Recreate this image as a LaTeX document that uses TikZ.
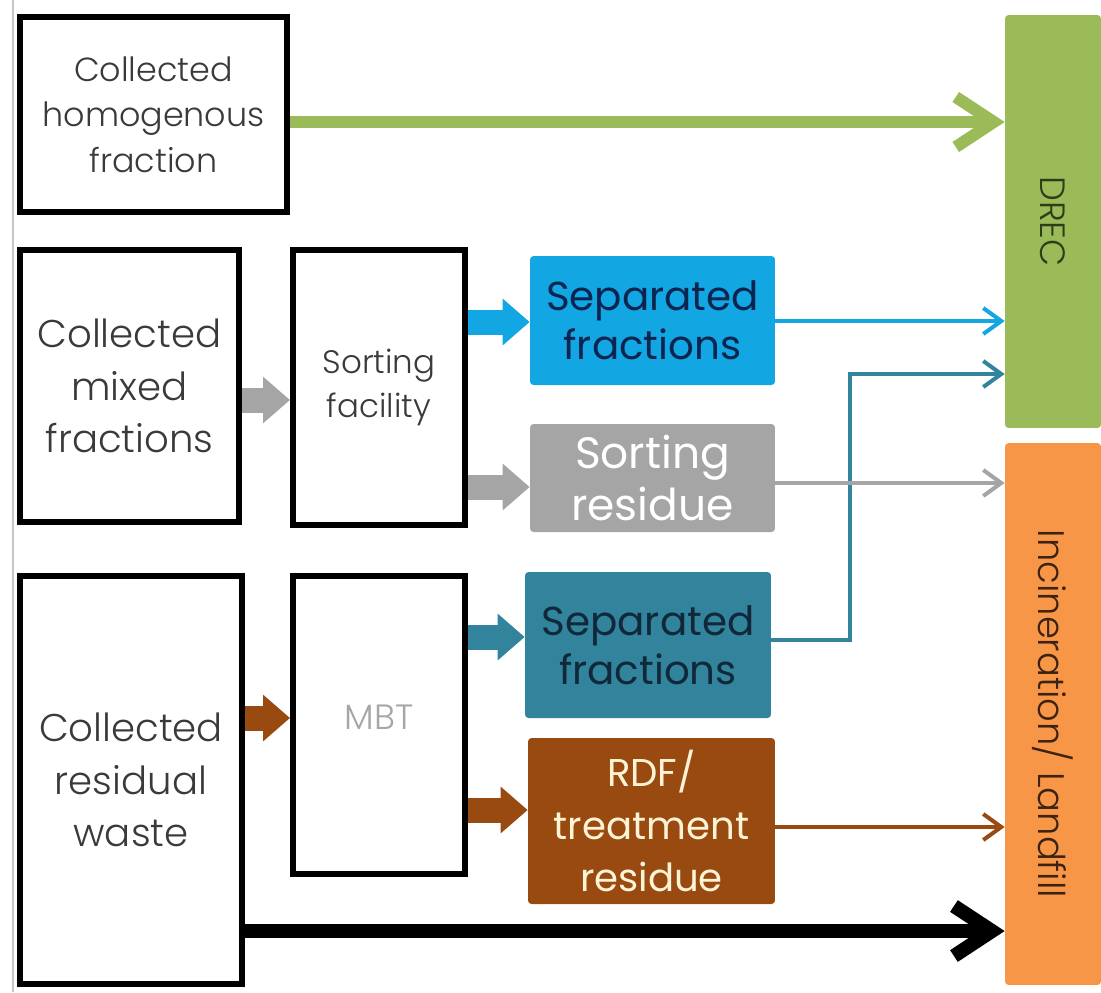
\documentclass[tikz,border=0pt]{standalone}
\usepackage{fontspec}
\setmainfont{Poppins Light}
\newfontfamily\boxfont{Poppins}
\usetikzlibrary{arrows.meta}
\definecolor{drecgreen}{HTML}{9BBB59}
\definecolor{incorange}{HTML}{F79646}
\definecolor{sepblue}{HTML}{12A7E3}
\definecolor{resgray}{HTML}{A5A5A5}
\definecolor{mbtteal}{HTML}{31849B}
\definecolor{rdfbrown}{HTML}{984A10}
\definecolor{txtgray}{HTML}{3A3A3A}
\definecolor{navytxt}{HTML}{0B2550}
\definecolor{tealtxt}{HTML}{10283A}
\definecolor{creamtxt}{HTML}{FFF3D6}
\definecolor{drectxt}{HTML}{2E3D18}
\definecolor{inctxt}{HTML}{3B2212}

\begin{document}
\begin{tikzpicture}[x=0.02cm,y=-0.02cm,
  wbox/.style={draw,line width=0.12cm,align=center,text=txtgray,inner sep=0pt},
  cbox/.style={fill=#1,rounded corners=2pt,align=center,inner sep=0pt},
  block/.style={line width=0.5cm,draw=#1,-{Triangle[length=0.54cm,width=0.9cm]}},
  flow/.style={line width=0.08cm,draw=#1,-{Straight Barb[length=0.36cm,width=0.52cm]}},
  bigflow/.style={draw=#1,-{Straight Barb[length=0.76cm,width=1cm]}}]
  \useasboundingbox (0,0) rectangle (1101,992);
  \draw[gray!45,line width=0.6pt] (13,0) -- (13,992);

  \node[wbox,minimum width=5.34cm,minimum height=3.9cm,font=\fontsize{19}{26}\selectfont] (hom) at (153.5,114.5) {Collected\\homogenous\\fraction};
  \node[wbox,minimum width=4.38cm,minimum height=5.44cm,font=\fontsize{22}{30}\selectfont] (mix) at (129.5,386) {Collected\\mixed\\fractions};
  \node[wbox,minimum width=3.44cm,minimum height=5.5cm,font=\fontsize{18.5}{25}\selectfont] (sort) at (379,387.5) {Sorting\\facility};
  \node[wbox,minimum width=3.44cm,minimum height=5.96cm,font=\fontsize{20}{26}\selectfont,text=gray!70,text depth=0.3cm] (mbt) at (379,725) {MBT};
  \node[wbox,minimum width=4.44cm,minimum height=8.16cm,font=\fontsize{22}{30}\selectfont] (res) at (131,780) {Collected\\residual\\waste};

  \node[cbox=sepblue,minimum width=4.9cm,minimum height=2.58cm,text=navytxt,font=\boxfont\fontsize{23}{28}\selectfont] (sepa) at (652.5,320.5) {Separated\\fractions};
  \node[cbox=resgray,minimum width=4.9cm,minimum height=2.16cm,text=white,font=\boxfont\fontsize{25}{29.5}\selectfont] (sres) at (652.5,478) {Sorting\\residue};
  \node[cbox=mbtteal,minimum width=4.92cm,minimum height=2.92cm,text=tealtxt,font=\boxfont\fontsize{23}{28}\selectfont] (sepb) at (648,645) {Separated\\fractions};
  \node[cbox=rdfbrown,minimum width=4.94cm,minimum height=3.32cm,text=creamtxt,font=\boxfont\fontsize{22}{30}\selectfont] (rdf) at (651.5,821) {RDF/\\treatment\\residue};

  \node[cbox=drecgreen,rotate=-90,minimum width=8.26cm,minimum height=1.92cm,text=drectxt,font=\fontsize{20}{24}\selectfont] (drec) at (1053,221.5) {DREC};
  \node[cbox=incorange,rotate=-90,minimum width=10.84cm,minimum height=1.92cm,text=inctxt,font=\fontsize{21}{24}\selectfont] (inc) at (1053,714) {Incineration/ Landfill};

  \draw[block=resgray] (mix.east |- 0,400) -- (sort.west |- 0,400);
  \draw[block=sepblue] (sort.east |- 0,322) -- (sepa.west |- 0,322);
  \draw[block=resgray] (sort.east |- 0,487) -- (sres.west |- 0,487);
  \draw[block=mbtteal] (mbt.east |- 0,637) -- (sepb.west |- 0,637);
  \draw[block=rdfbrown] (res.east |- 0,718) -- (mbt.west |- 0,718);
  \draw[block=rdfbrown] (mbt.east |- 0,810) -- (rdf.west |- 0,810);

  \draw[bigflow=drecgreen,line width=0.24cm] (hom.east |- 0,122) -- (drec.south |- 0,122);
  \draw[flow=sepblue] (sepa.east |- 0,321) -- (drec.south |- 0,321);
  \coordinate (bend) at (850,374);
  \draw[flow=mbtteal] (sepb.east |- 0,640) -| (bend) -- (drec.south |- bend);
  \draw[flow=resgray] (sres.east |- 0,483) -- (inc.south |- 0,483);
  \draw[flow=rdfbrown] (rdf.east |- 0,827) -- (inc.south |- 0,827);
  \draw[bigflow=black,line width=0.28cm] (res.east |- 0,931) -- (inc.south |- 0,931);
\end{tikzpicture}
\end{document}
